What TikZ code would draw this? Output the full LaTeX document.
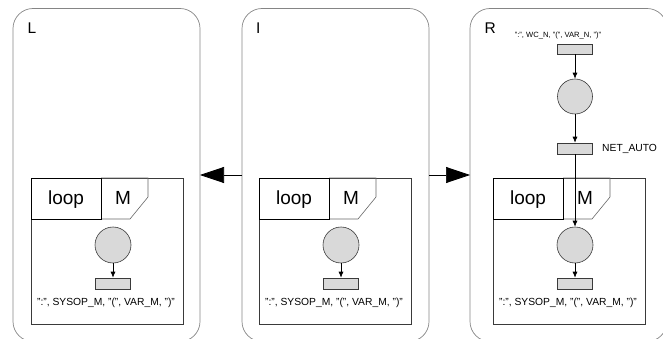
\documentclass[tikz,border=0pt]{standalone}
\usepackage{fontspec}
\setmainfont{Liberation Sans}
\usetikzlibrary{arrows.meta}

\definecolor{panelline}{HTML}{858585}
\definecolor{netfill}{HTML}{D9D9D9}
\definecolor{netline}{HTML}{3A3A3A}

\tikzset{
  x=1pt, y=-1pt,
  panel/.style={draw=panelline, line width=0.7pt, rounded corners=20pt,
    minimum width=#1, minimum height=333pt, inner sep=0pt, outer sep=0pt},
  paneltitle/.style={anchor=base west, inner sep=0pt, font=\fontsize{15.5}{15.5}\selectfont},
  place/.style={circle, draw=netline, fill=netfill, line width=0.6pt,
    minimum size=36pt, inner sep=0pt},
  trans/.style={rectangle, draw=netline, fill=netfill, line width=0.6pt,
    minimum width=35pt, minimum height=11pt, inner sep=0pt},
  arc/.style={draw=black, line width=0.7pt, -{Latex[length=6pt, width=5pt]}},
  bigarrow/.style={draw=black, line width=0.7pt, -{Triangle[length=24pt, width=16pt]}},
  netlabel/.style={inner sep=0pt, font=\fontsize{10.3}{10.3}\selectfont},
  smalllabel/.style={inner sep=0pt, font=\fontsize{7.6}{7.6}\selectfont},
  tablabel/.style={anchor=base, inner sep=0pt, font=\fontsize{19}{19}\selectfont},
  framebox/.style={draw=netline, line width=0.7pt},
  loopframe/.pic={
    % outer frame of the loop
    \draw[framebox] (0,0) rectangle (152,146);
    % "M" tab with the cut corner
    \draw[draw=gray!80!black, line width=0.6pt]
      (70,0) -- (117,0) -- (117,19) -- (99,41) -- (70,41);
    % "loop" tab
    \draw[draw=black, line width=0.7pt] (0,0) rectangle (70,41);
    \node[tablabel] (-loop) at (35,26.5) {loop};
    \node[tablabel] (-mult) at (92,26.5) {M};
    \node[place] (-place) at (82,67) {};
    \node[trans] (-trans) at (82,105.5) {};
    \node[netlabel, anchor=base] (-label) at (75,127)
      {":", SYSOP\_M, "(", VAR\_M, ")"};
    \draw[arc] (-place) -- (-trans);
  }
}

\begin{document}
\begin{tikzpicture}
\useasboundingbox (0,0) rectangle (663,339);

% the three panels
\node[panel=187pt] (L) at (106.5,175) {};
\node[panel=187pt] (I) at (335.5,175) {};
\node[panel=197pt] (R) at (568.5,175) {};

\node[paneltitle] (Ltitle) at (27.5,33.5) {L};
\node[paneltitle] (Ititle) at (256,33.5) {I};
\node[paneltitle] (Rtitle) at (484.5,33.5) {R};

% morphism arrows
\draw[bigarrow] (I.west) -- (L.east);
\draw[bigarrow] (I.east) -- (R.west);

% loop frames
\pic (Lf) at (31,178) {loopframe};
\pic (If) at (259,178) {loopframe};
\pic (Rf) at (493,178) {loopframe};

% additional net in R
\node[smalllabel, anchor=base] (wclabel) at (558,38) {":", WC\_N, "(", VAR\_N, ")"};
\node[trans, minimum height=10pt] (Rtop) at (575,49) {};
\node[place, minimum size=35pt] (Rmid) at (575,96.5) {};
\node[trans] (Rauto) at (575,148.5) {};
\node[netlabel, anchor=base west] (autolabel) at (602,152) {NET\_AUTO};

\draw[arc] (Rtop) -- (Rmid);
\draw[arc] (Rmid) -- (Rauto);
\draw[arc] (Rauto) -- (Rf-place);
\end{tikzpicture}
\end{document}
